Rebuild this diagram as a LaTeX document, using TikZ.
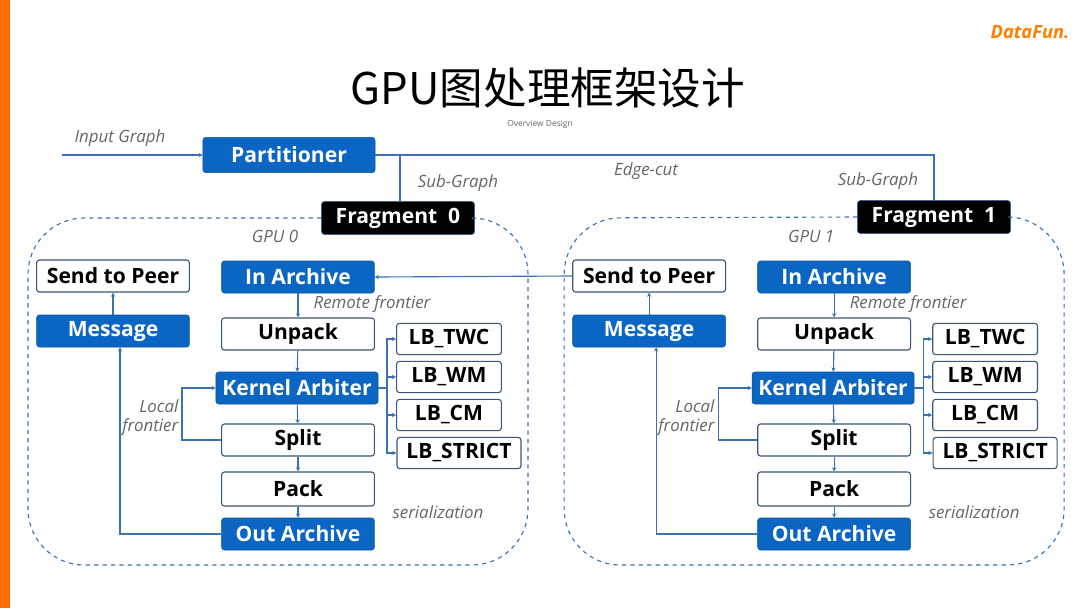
\documentclass[tikz,border=0pt]{standalone}
\usepackage{fontspec}
\setmainfont{Open Sans}
\newfontfamily\cjk{Noto Sans CJK SC}
\usetikzlibrary{arrows.meta,positioning}
\definecolor{boxblue}{HTML}{0B66C3}
\definecolor{edgeblue}{HTML}{3A72B5}
\definecolor{rimgray}{HTML}{3C5678}
\definecolor{labgray}{HTML}{666666}
\tikzset{
  blk/.style={rectangle, rounded corners=2pt, minimum width=3.82cm, minimum height=0.8cm,
    font=\bfseries\fontsize{15}{17}\selectfont, inner sep=1pt},
  bluebox/.style={blk, fill=boxblue, draw=boxblue!80!black, text=white},
  whitebox/.style={blk, fill=white, draw=rimgray, thick, text=black},
  lbbox/.style={whitebox, minimum width=2.62cm, minimum height=0.78cm},
  fragbox/.style={blk, fill=black, draw=boxblue!60!black, text=white, minimum height=0.82cm},
  lab/.style={font=\itshape\fontsize{12}{13.5}\selectfont, text=labgray, inner sep=1pt},
  link/.style={draw=edgeblue, thick, -{Stealth[length=3pt,width=3pt]}},
  plain/.style={draw=edgeblue, thick},
}
\begin{document}
\begin{tikzpicture}[x=0.025cm,y=-0.025cm]
\useasboundingbox[fill=white] (0,0) rectangle (1080,608);
\fill[orange!85!red] (0,0) rectangle (10,608);
% title
\node (title) at (548,88) {\cjk\fontsize{31}{34}\selectfont GPU图处理框架设计};
\node[font=\fontsize{6}{7}\selectfont, text=labgray] (sub) at (540,124) {Overview Design};
\node[font=\bfseries\itshape\fontsize{13}{14}\selectfont, text=orange] (logo) at (1030,32) {DataFun.};
% top level
\node[bluebox, minimum width=4.3cm, minimum height=0.88cm] (part) at (289,155) {Partitioner};
\coordinate (inp) at (62,155);
\node[lab, anchor=south] (inlab) at (120,148) {Input Graph};
\draw[link] (inp) -- (part);
\node[fragbox] (frag0) at (398,218) {Fragment\ \ 0};
\node[fragbox] (frag1) at (934,217) {Fragment\ \ 1};
\coordinate (tap0) at (400,155);
\draw[plain] (part.east) -- (tap0) -- (tap0 |- frag0.north);
\draw[plain] (tap0) -| (frag1.north);
\node[lab] (sg0) at (458,183) {Sub-Graph};
\node[lab] (sg1) at (878,181) {Sub-Graph};
\node[lab] (cut) at (646,171) {Edge-cut};
% two GPUs
\foreach \g in {0,1} {
\begin{scope}[xshift=\g*13.4cm]
\draw[edgeblue, thick, dashed, rounded corners=40pt] (frag\g.west) -- (28,218) -- (28,565) -- (528,565) -- (528,218) -- (frag\g.east);
\node[lab] (gpu\g) at (275,236) {GPU \g};
\node[whitebox] (peer\g) at (113,276) {Send to Peer};
\node[bluebox] (msg\g) at (113,331) {Message};
\node[bluebox] (inarc\g) at (298,277) {In Archive};
\node[whitebox] (unpack\g) at (298,334) {Unpack};
\node[bluebox, minimum width=4.05cm] (kern\g) at (297,388) {Kernel Arbiter};
\node[whitebox] (split\g) at (298,440) {Split};
\node[whitebox, minimum height=0.85cm] (pack\g) at (298,489) {Pack};
\node[bluebox] (outarc\g) at (298,534) {Out Archive};
\node[lbbox] (twc\g) at (449,339) {LB\_TWC};
\node[lbbox] (wm\g) at (449,377) {LB\_WM};
\node[lbbox] (cm\g) at (449,415) {LB\_CM};
\node[lbbox, minimum width=3.1cm] (strict\g) at (459,453) {LB\_STRICT};
\node[lab, anchor=west] (rem\g) at (312,304) {Remote frontier};
\node[lab, align=right, anchor=east] (loc\g) at (180,418) {Local\\frontier};
\node[lab] (ser\g) at (438,512) {serialization};
\draw[link] (msg\g) -- (peer\g);
\draw[link] (inarc\g) -- (unpack\g);
\draw[link] (unpack\g) -- (kern\g);
\draw[link] (kern\g) -- (split\g);
\draw[link] (split\g) -- (pack\g);
\draw[link] (pack\g) -- (outarc\g);
\draw[link] (outarc\g.west) -| ([xshift=5]msg\g.south);
\draw[link] (split\g.west) -- ++(-39,0) |- (kern\g.west);
\coordinate (fork\g) at (387,388);
\draw[plain] (kern\g.east) -- (fork\g);
\foreach \lb in {twc,wm,cm,strict}
  \draw[link] (fork\g) |- (\lb\g.west);
\end{scope}
}
\draw[link] (peer1.west) -- (inarc0.east);
\end{tikzpicture}
\end{document}
